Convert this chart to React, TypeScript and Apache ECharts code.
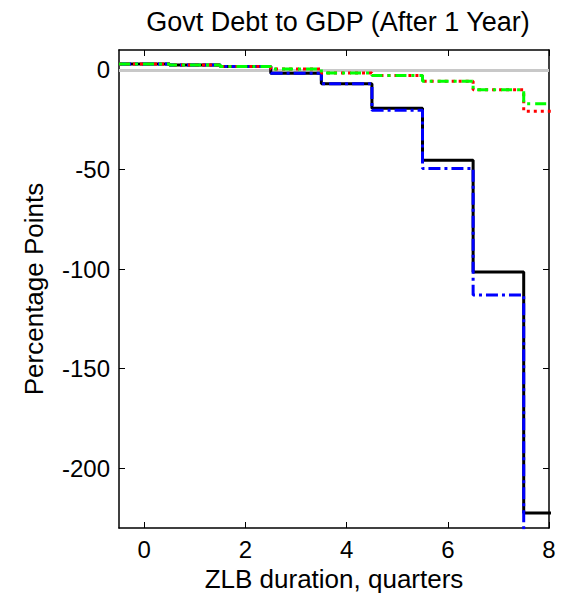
import React, { useEffect, useRef } from 'react';
import * as echarts from 'echarts';

// ZLB duration (quarters) and debt-to-GDP change after one year, in percentage points
const quarters = [0, 1, 2, 3, 4, 5, 6, 7, 8];
const blackSeries = [3, 2.5, 1.7, -1.7, -7, -19.2, -45.3, -101.5, -222.5];
const blueSeries = [3, 2.5, 1.7, -1.7, -7, -20.3, -49.5, -113, -260];
const redSeries = [3, 2.5, 1.7, 0.5, -1.5, -2.8, -5.7, -10, -20.7];
const greenSeries = [3, 2.5, 1.7, 0.5, -1.5, -2.8, -5.7, -10, -17];
const xTicks = [0, 2, 4, 6, 8];
const yTicks = [-200, -150, -100, -50, 0];

const FONT = 'Liberation Sans, Arial, Helvetica, sans-serif';

// each value holds for the whole quarter, so steps sit at the half-way points
const toSteps = (values: number[]) => {
  const pts = quarters.map((q, i) => [q - 0.5, values[i]]);
  const last = quarters.length - 1;
  pts.push([quarters[last] + 0.5, values[last]]);
  return pts;
};

const App = () => {
  const chartRef = useRef<HTMLDivElement>(null);

  useEffect(() => {
    const chart = echarts.init(chartRef.current!, null, { renderer: 'svg' });

    const axisLine = { show: true, onZero: false, lineStyle: { color: '#000', width: 1.5 } };
    const tickStyle = { lineStyle: { color: '#000', width: 1 } };

    const stepLine = (name: string, values: number[], color: string, type: any, z: number) => ({
      name,
      type: 'line' as const,
      step: 'end' as const,
      data: toSteps(values),
      showSymbol: false,
      symbol: 'none',
      clip: true,
      z,
      lineStyle: { color, width: 3, type },
      emphasis: { disabled: true }
    });

    chart.setOption({
      animation: false,
      title: {
        text: 'Govt Debt to GDP (After 1 Year)',
        left: 333,
        top: 3,
        textAlign: 'center',
        textStyle: { fontFamily: FONT, fontSize: 27, fontWeight: 'normal', color: '#000' }
      },
      grid: { left: 119, right: 16, top: 50, bottom: 72 },
      xAxis: [
        {
          type: 'value',
          min: -0.5,
          max: 8,
          name: 'ZLB duration, quarters',
          nameLocation: 'middle',
          nameGap: 37,
          nameTextStyle: { fontFamily: FONT, fontSize: 26, color: '#000' },
          axisLine,
          axisTick: { show: true, inside: true, length: 6, customValues: xTicks, ...tickStyle },
          axisLabel: { customValues: xTicks, margin: 9, fontFamily: FONT, fontSize: 24, color: '#000' },
          splitLine: { show: false }
        },
        {
          type: 'value',
          position: 'top',
          min: -0.5,
          max: 8,
          axisLine,
          axisTick: { show: true, inside: true, length: 6, customValues: xTicks, ...tickStyle },
          axisLabel: { show: false },
          splitLine: { show: false }
        }
      ],
      yAxis: [
        {
          type: 'value',
          min: -230,
          max: 10,
          name: 'Percentage Points',
          nameLocation: 'middle',
          nameGap: 72,
          nameRotate: 90,
          nameTextStyle: { fontFamily: FONT, fontSize: 26, color: '#000' },
          axisLine,
          axisTick: { show: true, inside: true, length: 6, customValues: yTicks, ...tickStyle },
          axisLabel: { customValues: yTicks, margin: 9, fontFamily: FONT, fontSize: 24, color: '#000' },
          splitLine: { show: false }
        },
        {
          type: 'value',
          position: 'right',
          min: -230,
          max: 10,
          axisLine,
          axisTick: { show: true, inside: true, length: 6, customValues: yTicks, ...tickStyle },
          axisLabel: { show: false },
          splitLine: { show: false }
        }
      ],
      series: [
        {
          ...stepLine('Black', blackSeries, '#000000', 'solid', 2),
          markLine: {
            silent: true,
            symbol: 'none',
            label: { show: false },
            lineStyle: { color: '#c8c8c8', width: 3, type: 'solid' },
            data: [{ yAxis: 0 }],
            z: 1
          }
        },
        stepLine('Blue', blueSeries, '#0000ff', [12, 4, 3, 4], 3),
        stepLine('Red', redSeries, '#ff0000', [3, 4], 4),
        stepLine('Green', greenSeries, '#00ff00', [11, 5, 3, 5], 5)
      ]
    });

    return () => {
      chart.dispose();
    };
  }, []);

  return (
    <div
      ref={chartRef}
      style={{ position: 'fixed', left: 0, top: 0, width: 565, height: 600, background: '#fff' }}
    />
  );
};

export default App;
